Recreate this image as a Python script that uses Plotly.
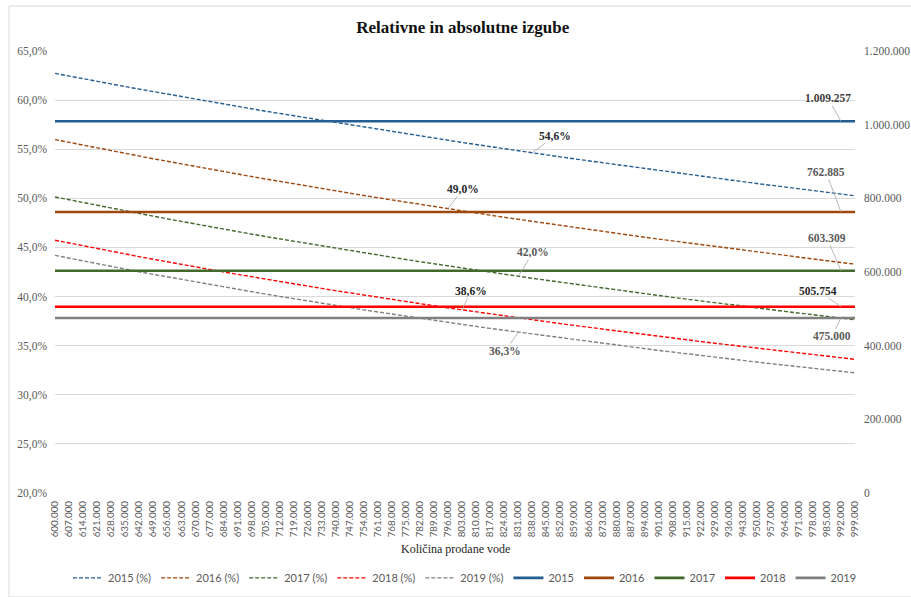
import plotly.graph_objects as go

# ---------------- data ----------------
categories = ["600.000", "607.000", "614.000", "621.000", "628.000", "635.000", "642.000", "649.000",
              "656.000", "663.000", "670.000", "677.000", "684.000", "691.000", "698.000", "705.000",
              "712.000", "719.000", "726.000", "733.000", "740.000", "747.000", "754.000", "761.000",
              "768.000", "775.000", "782.000", "789.000", "796.000", "803.000", "810.000", "817.000",
              "824.000", "831.000", "838.000", "845.000", "852.000", "859.000", "866.000", "873.000",
              "880.000", "887.000", "894.000", "901.000", "908.000", "915.000", "922.000", "929.000",
              "936.000", "943.000", "950.000", "957.000", "964.000", "971.000", "978.000", "985.000",
              "992.000", "999.000"]

rel_2015 = [62.72, 62.44, 62.18, 61.91, 61.64, 61.38, 61.12, 60.86, 60.61, 60.35, 60.10, 59.85,
            59.60, 59.36, 59.12, 58.87, 58.64, 58.40, 58.16, 57.93, 57.70, 57.47, 57.24, 57.01,
            56.79, 56.56, 56.34, 56.12, 55.91, 55.69, 55.48, 55.26, 55.05, 54.84, 54.64, 54.43,
            54.22, 54.02, 53.82, 53.62, 53.42, 53.22, 53.03, 52.83, 52.64, 52.45, 52.26, 52.07,
            51.88, 51.70, 51.51, 51.33, 51.15, 50.97, 50.79, 50.61, 50.43, 50.26]
rel_2016 = [55.98, 55.69, 55.41, 55.13, 54.85, 54.57, 54.30, 54.03, 53.77, 53.50, 53.24, 52.98,
            52.73, 52.47, 52.22, 51.97, 51.72, 51.48, 51.24, 51.00, 50.76, 50.53, 50.29, 50.06,
            49.83, 49.61, 49.38, 49.16, 48.94, 48.72, 48.50, 48.29, 48.07, 47.86, 47.65, 47.45,
            47.24, 47.04, 46.83, 46.63, 46.44, 46.24, 46.04, 45.85, 45.66, 45.47, 45.28, 45.09,
            44.90, 44.72, 44.54, 44.36, 44.18, 44.00, 43.82, 43.65, 43.47, 43.30]
rel_2017 = [50.14, 49.85, 49.56, 49.28, 49.00, 48.72, 48.45, 48.18, 47.91, 47.64, 47.38, 47.12,
            46.87, 46.61, 46.36, 46.11, 45.87, 45.63, 45.39, 45.15, 44.91, 44.68, 44.45, 44.22,
            44.00, 43.77, 43.55, 43.33, 43.11, 42.90, 42.69, 42.48, 42.27, 42.06, 41.86, 41.66,
            41.46, 41.26, 41.06, 40.87, 40.67, 40.48, 40.29, 40.11, 39.92, 39.74, 39.55, 39.37,
            39.19, 39.02, 38.84, 38.67, 38.49, 38.32, 38.15, 37.98, 37.82, 37.65]
rel_2018 = [45.74, 45.45, 45.17, 44.89, 44.61, 44.34, 44.06, 43.80, 43.53, 43.27, 43.02, 42.76,
            42.51, 42.26, 42.01, 41.77, 41.53, 41.29, 41.06, 40.83, 40.60, 40.37, 40.15, 39.93,
            39.71, 39.49, 39.27, 39.06, 38.85, 38.64, 38.44, 38.23, 38.03, 37.83, 37.64, 37.44,
            37.25, 37.06, 36.87, 36.68, 36.50, 36.31, 36.13, 35.95, 35.77, 35.60, 35.42, 35.25,
            35.08, 34.91, 34.74, 34.58, 34.41, 34.25, 34.09, 33.93, 33.77, 33.61]
rel_2019 = [44.19, 43.90, 43.62, 43.34, 43.06, 42.79, 42.52, 42.26, 42.00, 41.74, 41.48, 41.23,
            40.98, 40.74, 40.49, 40.25, 40.02, 39.78, 39.55, 39.32, 39.09, 38.87, 38.65, 38.43,
            38.21, 38.00, 37.79, 37.58, 37.37, 37.17, 36.96, 36.76, 36.57, 36.37, 36.18, 35.98,
            35.80, 35.61, 35.42, 35.24, 35.06, 34.88, 34.70, 34.52, 34.35, 34.17, 34.00, 33.83,
            33.66, 33.50, 33.33, 33.17, 33.01, 32.85, 32.69, 32.53, 32.38, 32.23]

years = ["2015", "2016", "2017", "2018", "2019"]
abs_losses = [1009257, 762885, 603309, 505754, 475000]
rel_series = [rel_2015, rel_2016, rel_2017, rel_2018, rel_2019]
rel_label_text = ["54,6%", "49,0%", "42,0%", "38,6%", "36,3%"]

left_ticks = [20, 25, 30, 35, 40, 45, 50, 55, 60, 65]
left_ticktext = ["20,0%", "25,0%", "30,0%", "35,0%", "40,0%", "45,0%", "50,0%", "55,0%", "60,0%", "65,0%"]
right_ticks = [0, 200000, 400000, 600000, 800000, 1000000, 1200000]
right_ticktext = ["0", "200.000", "400.000", "600.000", "800.000", "1.000.000", "1.200.000"]

# ---------------- styles ----------------
colors = ["#255E91", "#9E480E", "#43682B", "#FF0000", "#808080"]
serif = "Liberation Serif, Times New Roman, serif"
sans = "Lato, Calibri, sans-serif"
grey_txt = "#595959"

fig = go.Figure()

for yr, vals, c in zip(years, rel_series, colors):
    fig.add_trace(go.Scatter(
        x=categories, y=vals, name=f"{yr} (%)", mode="lines",
        line=dict(color=c, width=1.4, dash="4px,2px"), yaxis="y",
    ))

for yr, v, c in zip(years, abs_losses, colors):
    fig.add_trace(go.Scatter(
        x=categories, y=[v] * len(categories), name=yr, mode="lines",
        line=dict(color=c, width=2.6), yaxis="y2",
    ))

# ---------------- data labels ----------------
ann = []
# relative labels: (series idx, category idx, ax, ay, color)
rel_pos = [(0, 34, 23, -17, "#262626"), (1, 28, 15, -20, "#262626"), (2, 33, 15, -24, "#595959"),
           (3, 29, 9, -19, "#262626"), (4, 33, -13, 19, "#595959")]
for (si, ci, ax, ay, col), txt in zip(rel_pos, rel_label_text):
    ann.append(dict(x=ci, y=rel_series[si][ci], xref="x", yref="y",
                    text=f"<b>{txt}</b>", showarrow=True, arrowhead=0, arrowwidth=0.8,
                    arrowcolor="#A6A6A6", ax=ax, ay=ay,
                    font=dict(family=serif, size=11.5, color=col)))
abs_pos = [(0, 56, -13, -23, "#404040"), (1, 56, -15, -40, "#595959"), (2, 56, -14, -33, "#595959"),
           (3, 56, -23, -16, "#262626"), (4, 56, -9, 18, "#595959")]
for (si, ci, ax, ay, col) in abs_pos:
    txt = f"{abs_losses[si]:,}".replace(",", ".")
    ann.append(dict(x=ci, y=abs_losses[si], xref="x", yref="y2",
                    text=f"<b>{txt}</b>", showarrow=True, arrowhead=0, arrowwidth=0.8,
                    arrowcolor="#A6A6A6", ax=ax, ay=ay,
                    font=dict(family=serif, size=11.5, color=col)))
# x axis title
ann.append(dict(x=0.5, y=-0.127, xref="paper", yref="paper", text="Količina prodane vode",
                showarrow=False, xanchor="center", yanchor="middle",
                font=dict(family=serif, size=12, color="#262626")))

fig.update_layout(
    width=911, height=597,
    margin=dict(l=55, r=56, t=51, b=104, autoexpand=False),
    paper_bgcolor="white", plot_bgcolor="white",
    title=dict(text="<b>Relativne in absolutne izgube</b>", x=0.508, xanchor="center",
               y=0.955, yanchor="middle", font=dict(family=serif, size=17, color="#111111")),
    xaxis=dict(type="category", range=[0, len(categories) - 1], tickangle=-90,
               showgrid=False, showline=False, ticks="", ticklabelstandoff=5, automargin=False,
               tickfont=dict(family=sans, size=9.8, color=grey_txt)),
    yaxis=dict(range=[20, 65], tickvals=left_ticks, ticktext=left_ticktext,
               showgrid=True, gridcolor="#D9D9D9", gridwidth=1, zeroline=False,
               showline=False, ticks="", ticklabelstandoff=7, automargin=False,
               tickfont=dict(family=serif, size=11.5, color=grey_txt)),
    yaxis2=dict(range=[0, 1200000], tickvals=right_ticks, ticktext=right_ticktext,
                overlaying="y", side="right", showgrid=False, zeroline=False,
                showline=False, ticks="", ticklabelstandoff=8, automargin=False,
                tickfont=dict(family=serif, size=11.5, color=grey_txt)),
    legend=dict(orientation="h", x=0.5125, xanchor="center", y=-0.192, yanchor="middle",
                font=dict(family=sans, size=11, color=grey_txt), bgcolor="rgba(0,0,0,0)"),
    annotations=ann,
    shapes=[dict(type="rect", xref="paper", yref="paper", x0=-0.0575, x1=1.071,
                 y0=-0.2353, y1=1.1018, line=dict(color="#D9D9D9", width=1),
                 fillcolor="rgba(0,0,0,0)", layer="below")],
)

fig.write_html("out.html", config={"displayModeBar": False},
               post_script="document.body.style.margin='0';document.body.style.overflow='hidden';")
